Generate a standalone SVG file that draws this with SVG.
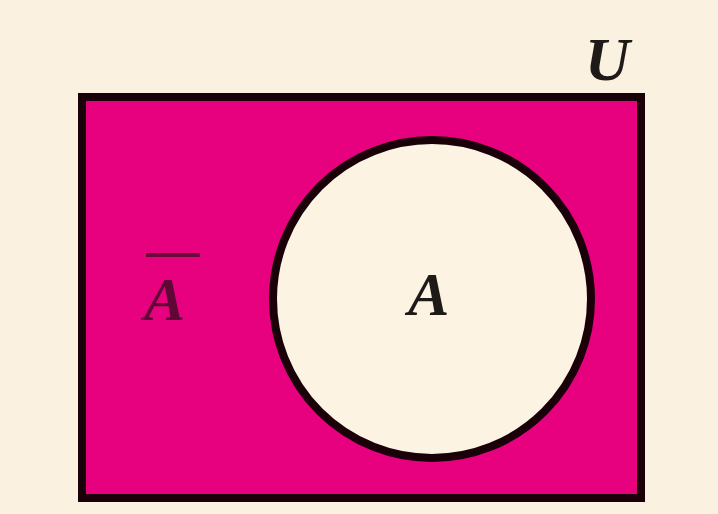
<svg xmlns="http://www.w3.org/2000/svg" width="718" height="514" viewBox="0 0 718 514">
<style>
.lbl{font-family:"Liberation Serif","DejaVu Serif",serif;font-style:italic;font-weight:bold;font-size:62px;}
</style>
<rect width="718" height="514" fill="#faf1e1"/>
<g id="universe">
<rect x="82" y="97" width="559" height="401" fill="#e8017f" stroke="#1a0008" stroke-width="8"/>
<text class="lbl" x="585" y="80" fill="#1e1a18">U</text>
</g>
<g id="complement">
<line x1="146" y1="255" x2="200" y2="255" stroke="#6a0a3c" stroke-width="4"/>
<text class="lbl" x="144" y="320" fill="#5e0836">A</text>
</g>
<g id="setA">
<circle cx="432" cy="299" r="159" fill="#fcf3e3" stroke="#1a0008" stroke-width="8"/>
<text class="lbl" x="408" y="315" fill="#1e1a18">A</text>
</g>
</svg>
